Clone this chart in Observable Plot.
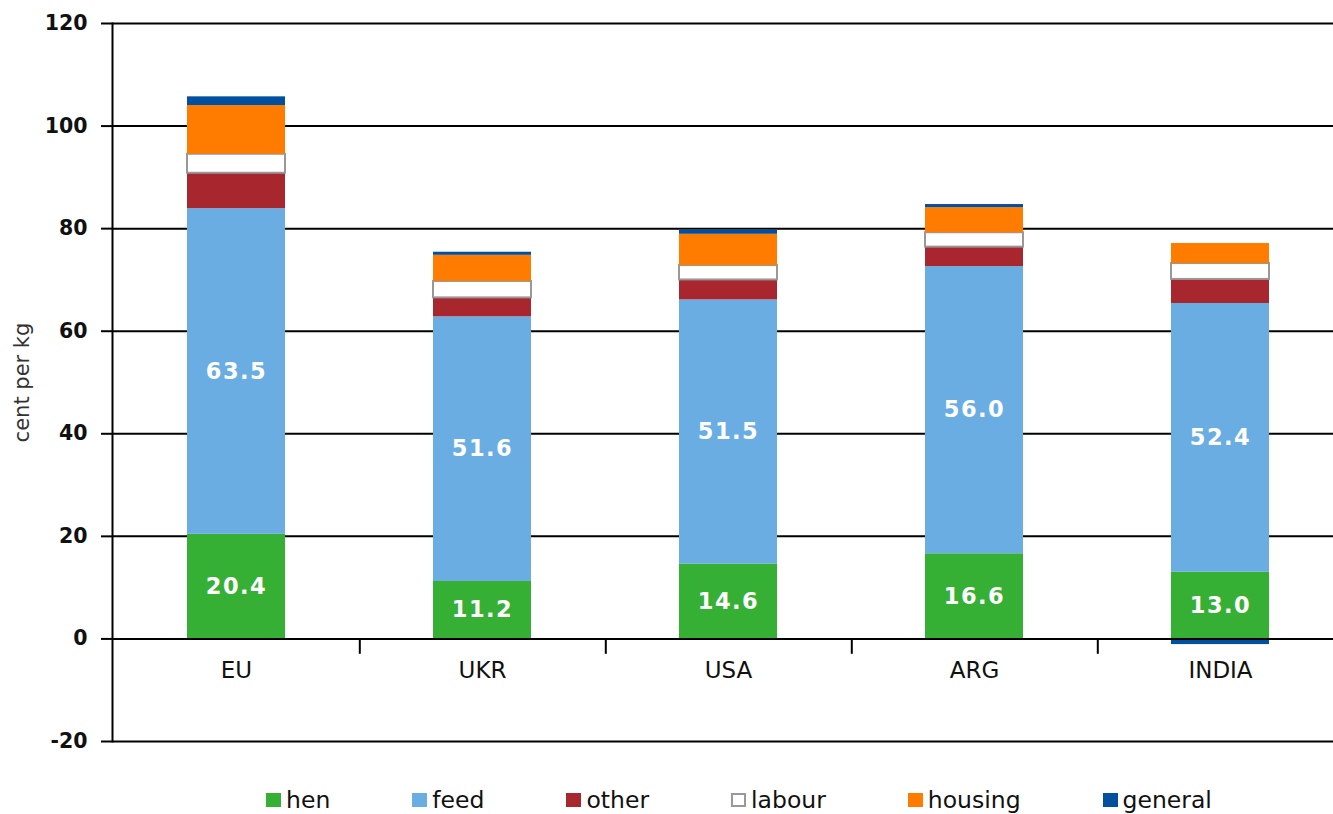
<!DOCTYPE html>
<html>
<head>
<meta charset="utf-8">
<script src="https://cdn.jsdelivr.net/npm/d3@7"></script>
<script src="https://cdn.jsdelivr.net/npm/@observablehq/plot@0.6"></script>
<style>
  html, body { margin: 0; padding: 0; background: #fff; }
  body { width: 1333px; height: 814px; overflow: hidden; font-family: "DejaVu Sans", Verdana, sans-serif; }
  #chart svg { display: block; overflow: visible; }
  #chart g[aria-label="text"].vals text { letter-spacing: 1.5px; }
  .legend { display: flex; justify-content: center; gap: 82px; margin-top: 18px; padding-left: 145px; line-height: 24px; font-size: 23.5px; color: #111; }
  .legend .item { display: flex; align-items: center; }
  .legend .sw { display: inline-block; width: 15px; height: 14px; margin-right: 5px; box-sizing: border-box; }
</style>
</head>
<body>
<div id="chart"></div>
<div class="legend" id="legend"></div>
<script>
// ---- data ----
const countries = ["EU", "UKR", "USA", "ARG", "INDIA"];
const components = ["hen", "feed", "other", "labour", "housing", "general"];
const colors = ["#35b035", "#6aade2", "#a8272f", "#ffffff", "#ff7c00", "#00509f"];
const hen = [20.4, 11.2, 14.6, 16.6, 13.0];
const feed = [63.5, 51.6, 51.5, 56.0, 52.4];
const other = [6.9, 3.7, 3.9, 3.8, 4.7];
const labour = [3.7, 3.2, 2.8, 2.8, 3.1];
const housing = [9.5, 5.1, 6.1, 4.9, 3.9];
const general = [1.7, 0.6, 0.8, 0.6, -1.1];
const yTicks = [-20, 0, 20, 40, 60, 80, 100, 120];
const labelled = ["hen", "feed"];

// ---- table ----
const series = {hen, feed, other, labour, housing, general};
const data = [];
countries.forEach((c, i) => {
  components.forEach(k => data.push({country: c, component: k, value: series[k][i]}));
});
const colorOf = Object.fromEntries(components.map((k, i) => [k, colors[i]]));

const xRange = [112, 1345];
const step = (xRange[1] - xRange[0]) / countries.length;

const plot = Plot.plot({
  width: 1333,
  height: 770,
  marginTop: 23,
  marginBottom: 29,
  marginLeft: 112,
  marginRight: 0,
  style: {fontFamily: '"DejaVu Sans", Verdana, sans-serif', background: "#fff", color: "#111"},
  x: {domain: countries, range: xRange, paddingInner: 0.6, paddingOuter: 0.3, axis: null},
  y: {domain: [-20, 120], axis: null},
  color: {type: "identity"},
  marks: [
    Plot.gridY({ticks: yTicks, stroke: "#000", strokeOpacity: 1, strokeWidth: 2}),
    Plot.axisY({ticks: yTicks, tickSize: 11, tickPadding: 14, stroke: "#000", strokeWidth: 2,
                tickFormat: d => String(d),
                fontSize: 20.5, fontWeight: "bold", fill: "#111", label: null}),
    Plot.axisY({ticks: [], label: "cent per kg", labelAnchor: "center", labelOffset: 98,
                labelArrow: "none", fontSize: 21, fill: "#333"}),
    Plot.barY(data, Plot.stackY({
      x: "country", y: "value", z: "component",
      fill: d => colorOf[d.component],
      stroke: d => d.component === "labour" ? "#999999" : "transparent",
      strokeWidth: 2
    })),
    Plot.text(data.filter(d => labelled.includes(d.component)), Plot.stackY({
      x: "country", y: "value", z: "component",
      text: d => d.value.toFixed(1),
      fill: "#fff", fontSize: 22.5, fontWeight: "bold",
      className: "vals"
    })),
    Plot.ruleY([0], {stroke: "#000", strokeWidth: 2}),
    Plot.frame({anchor: "left", stroke: "#000", strokeWidth: 2}),
    Plot.ruleX(countries.slice(0, -1), {x: d => d, y1: 0, y2: -3, dx: step / 2, stroke: "#000", strokeWidth: 2}),
    Plot.text(countries, {x: d => d, y: 0, dy: 32, fontSize: 23, fill: "#111"})
  ]
});
document.getElementById("chart").appendChild(plot);

// ---- legend ----
const legend = document.getElementById("legend");
components.forEach((k, i) => {
  const item = document.createElement("div");
  item.className = "item";
  const sw = document.createElement("span");
  sw.className = "sw";
  sw.style.background = colors[i];
  if (k === "labour") sw.style.border = "2px solid #999";
  const t = document.createElement("span");
  t.textContent = k;
  item.appendChild(sw);
  item.appendChild(t);
  legend.appendChild(item);
});
</script>
</body>
</html>
